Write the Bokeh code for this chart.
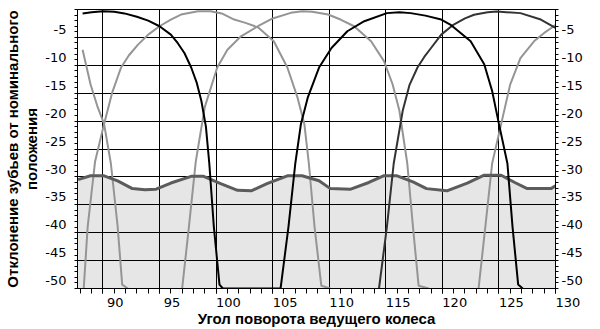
from bokeh.plotting import figure
from bokeh.models import Range1d, LinearAxis, FixedTicker
from bokeh.embed import file_html
from bokeh.resources import INLINE

# ---- data ----
x_ticks = [90, 95, 100, 105, 110, 115, 120, 125, 130]
x_tick_labels = ["90", "95", "100", "105", "110", "115", "120", "125", "130"]
y_ticks = [-50, -45, -40, -35, -30, -25, -20, -15, -10, -5]
y_tick_labels = ["-50", "-45", "-40", "-35", "-30", "-25", "-20", "-15", "-10", "-5"]

env_x = [87.8, 88.9, 90.1, 91.3, 92.6, 93.7, 94.7, 96.0, 97.8, 98.9, 100.4, 101.9, 103.1, 104.5,
         106.3, 107.6, 109.1, 110.1, 111.9, 113.5, 114.8, 116.0, 117.4, 118.6, 120.4, 122.2,
         123.7, 125.2, 126.4, 127.5, 129.6, 130.0]
env_y = [-30.5, -29.8, -29.8, -30.7, -32.1, -32.3, -32.2, -31.1, -29.9, -29.9, -31.2, -32.4, -32.5, -31.2,
         -29.8, -29.8, -30.7, -32.1, -32.2, -31.0, -29.8, -29.8, -30.9, -32.1, -32.5, -31.1,
         -29.7, -29.7, -31.0, -32.1, -32.1, -31.6]

g0_x = [88.2, 88.9, 89.5, 90.1, 90.7, 91.3, 91.7, 92.2]
g0_y = [-7.2, -13.4, -17.3, -20.5, -27.6, -38.9, -49.3, -50.0]

b1_x = [88.2, 89.0, 90.0, 91.0, 91.9, 93.0, 94.0, 95.0, 96.0, 96.6, 97.2, 97.8, 98.3, 98.7, 99.1,
        99.4, 99.8, 100.3, 100.6, 105.7]
b1_y = [-0.7, -0.5, -0.3, -0.4, -0.7, -1.3, -2.0, -3.0, -4.5, -6.0, -7.8, -10.4, -13.2, -16.4, -21.0,
        -27.6, -38.9, -49.3, -50.0, -50.0]

g1_x = [88.3, 88.65, 89.3, 90.1, 90.8, 91.6, 92.3, 93.1, 94.0, 95.0, 96.0, 96.9, 98.4, 99.5, 100.5,
        101.6, 102.6, 103.7, 105.1, 106.3, 107.2, 107.8, 108.2, 108.7, 109.3, 110.1]
g1_y = [-50.0, -38.9, -27.3, -20.5, -15.0, -10.4, -8.2, -6.3, -4.5, -3.0, -1.8, -0.9, -0.3, -0.3, -0.7,
        -1.8, -2.4, -3.2, -5.7, -10.4, -15.8, -20.5, -27.6, -38.9, -49.5, -50.0]

g2_x = [97.0, 97.6, 98.2, 99.0, 100.1, 101.0, 102.2, 103.7, 105.0, 106.6, 107.6, 108.5, 109.9, 111.0,
        112.2, 113.7, 114.85, 115.6, 116.2, 116.9, 117.4, 117.9, 118.8]
g2_y = [-50.0, -38.9, -27.3, -17.5, -10.4, -7.2, -4.8, -3.0, -1.6, -0.6, -0.3, -0.4, -0.9, -1.8,
        -3.0, -5.7, -9.3, -13.4, -18.1, -27.6, -38.9, -49.5, -50.0]

b2_x = [105.7, 106.4, 107.0, 107.5, 108.1, 109.1, 110.2, 111.6, 113.1, 115.1, 116.2, 117.2, 118.5,
        119.9, 120.7, 122.5, 123.7, 124.4, 125.0, 125.75, 126.2, 126.7, 127.1]
b2_y = [-50.0, -38.9, -27.6, -20.5, -15.8, -10.4, -6.9, -3.9, -2.1, -0.65, -0.5, -0.65, -1.1,
        -1.8, -2.7, -5.7, -9.8, -14.6, -20.5, -27.6, -38.9, -49.3, -50.0]

b3_x = [114.4, 115.1, 115.7, 116.5, 117.1, 117.8, 118.4, 119.0, 119.9, 121.0, 122.0, 122.8, 124.0,
        124.8, 126.9, 128.7, 130.0]
b3_y = [-50.0, -38.9, -27.6, -18.1, -13.5, -10.4, -8.5, -6.9, -4.5, -2.7, -1.6, -0.95, -0.5,
        -0.36, -0.65, -1.8, -3.3]

g4_x = [123.2, 123.8, 124.4, 125.2, 126.0, 126.9, 128.1, 129.0, 129.85, 130.0]
g4_y = [-50.0, -38.9, -27.6, -20.5, -13.4, -8.7, -5.7, -4.2, -3.0, -2.8]

x_title = "Угол поворота ведущего колеса"
y_title_line1 = "Отклонение зубьев от номинального"
y_title_line2 = "положения"

X_START, X_END = 87.75, 130.0
Y_START, Y_END = -50.0, 0.0

# labels in the reference sit up (y) / right (x) of their ticks
Y_LABEL_SHIFT = 1.4          # data units upward
X_LABEL_PAD = "\u00a0" * 6   # non-breaking padding pushes centred x labels to the right

# ---- figure ----
p = figure(width=600, height=329, x_range=Range1d(X_START, X_END), y_range=Range1d(Y_START, Y_END),
           output_backend="svg", toolbar_location=None,
           min_border_left=77, min_border_right=45, min_border_top=9, min_border_bottom=40)
p.background_fill_color = "white"
p.border_fill_color = "white"
p.outline_line_color = "black"
p.outline_line_width = 1

LABEL_FONT = "DejaVu Sans"
TITLE_FONT = "Liberation Sans"

x_minor = list(range(88, 131))
y_minor = list(range(-50, 1))
y_label_pos = [round(v + Y_LABEL_SHIFT, 3) for v in y_ticks]
y_overrides = {pos: s for pos, s in zip(y_label_pos, y_tick_labels)}

# bottom axis
xa = p.xaxis[0]
xa.ticker = FixedTicker(ticks=x_ticks, minor_ticks=x_minor)
xa.major_label_overrides = {t: X_LABEL_PAD + s for t, s in zip(x_ticks, x_tick_labels)}
xa.major_tick_out = 5
xa.major_tick_in = 0
xa.minor_tick_out = 5
xa.minor_tick_in = 0
xa.major_label_standoff = 1
xa.axis_label = x_title
xa.axis_label_standoff = -3

# left axis (ticks + labels + second title line)
ya = p.yaxis[0]
ya.ticker = FixedTicker(ticks=y_label_pos, minor_ticks=y_minor)
ya.major_label_overrides = y_overrides
ya.major_tick_out = 4
ya.major_tick_in = 0
ya.major_tick_line_color = None
ya.minor_tick_out = 3
ya.minor_tick_in = 0
ya.major_label_standoff = 7
ya.axis_label = y_title_line2
ya.axis_label_standoff = 2

# outer left axis carrying the first title line
ya2 = LinearAxis(ticker=FixedTicker(ticks=[]), axis_line_color=None,
                 major_tick_line_color=None, minor_tick_line_color=None)
ya2.axis_label = y_title_line1
ya2.axis_label_standoff = 0
p.add_layout(ya2, "left")

# right axis
ra = LinearAxis(ticker=FixedTicker(ticks=y_label_pos, minor_ticks=y_minor))
ra.major_label_overrides = y_overrides
ra.major_tick_out = 4
ra.major_tick_in = 0
ra.major_tick_line_color = None
ra.minor_tick_out = 3
ra.minor_tick_in = 0
ra.major_label_standoff = 2
p.add_layout(ra, "right")

for ax in (xa, ya, ya2, ra):
    ax.major_label_text_font = LABEL_FONT
    ax.major_label_text_font_size = "13px"
    ax.major_label_text_color = "black"
    ax.axis_label_text_font = TITLE_FONT
    ax.axis_label_text_font_style = "bold"
    ax.axis_label_text_font_size = "15px"
    ax.axis_label_text_line_height = 1.0
    ax.axis_label_text_color = "black"
for ax in (xa, ya, ra):
    ax.axis_line_color = "black"
    ax.minor_tick_line_color = "black"
xa.major_tick_line_color = "black"

p.xgrid.ticker = FixedTicker(ticks=x_ticks)
p.ygrid.ticker = FixedTicker(ticks=y_ticks)
for g in (p.xgrid, p.ygrid):
    g.grid_line_color = "black"
    g.grid_line_width = 1

# filled area under the envelope
p.varea(x=env_x, y1=[Y_START] * len(env_x), y2=env_y, fill_color="#e6e6e6", level="image")

GRAY = "#959595"
for xs, ys in ((g0_x, g0_y), (g1_x, g1_y), (g2_x, g2_y), (g4_x, g4_y)):
    p.line(xs, ys, line_color=GRAY, line_width=2)

p.line(env_x, env_y, line_color="#5c5c5c", line_width=3)

p.line(b3_x, b3_y, line_color="#333333", line_width=2)
p.line(b1_x, b1_y, line_color="black", line_width=2)
p.line(b2_x, b2_y, line_color="black", line_width=2)

open("out.html", "w").write(file_html(p, INLINE))
